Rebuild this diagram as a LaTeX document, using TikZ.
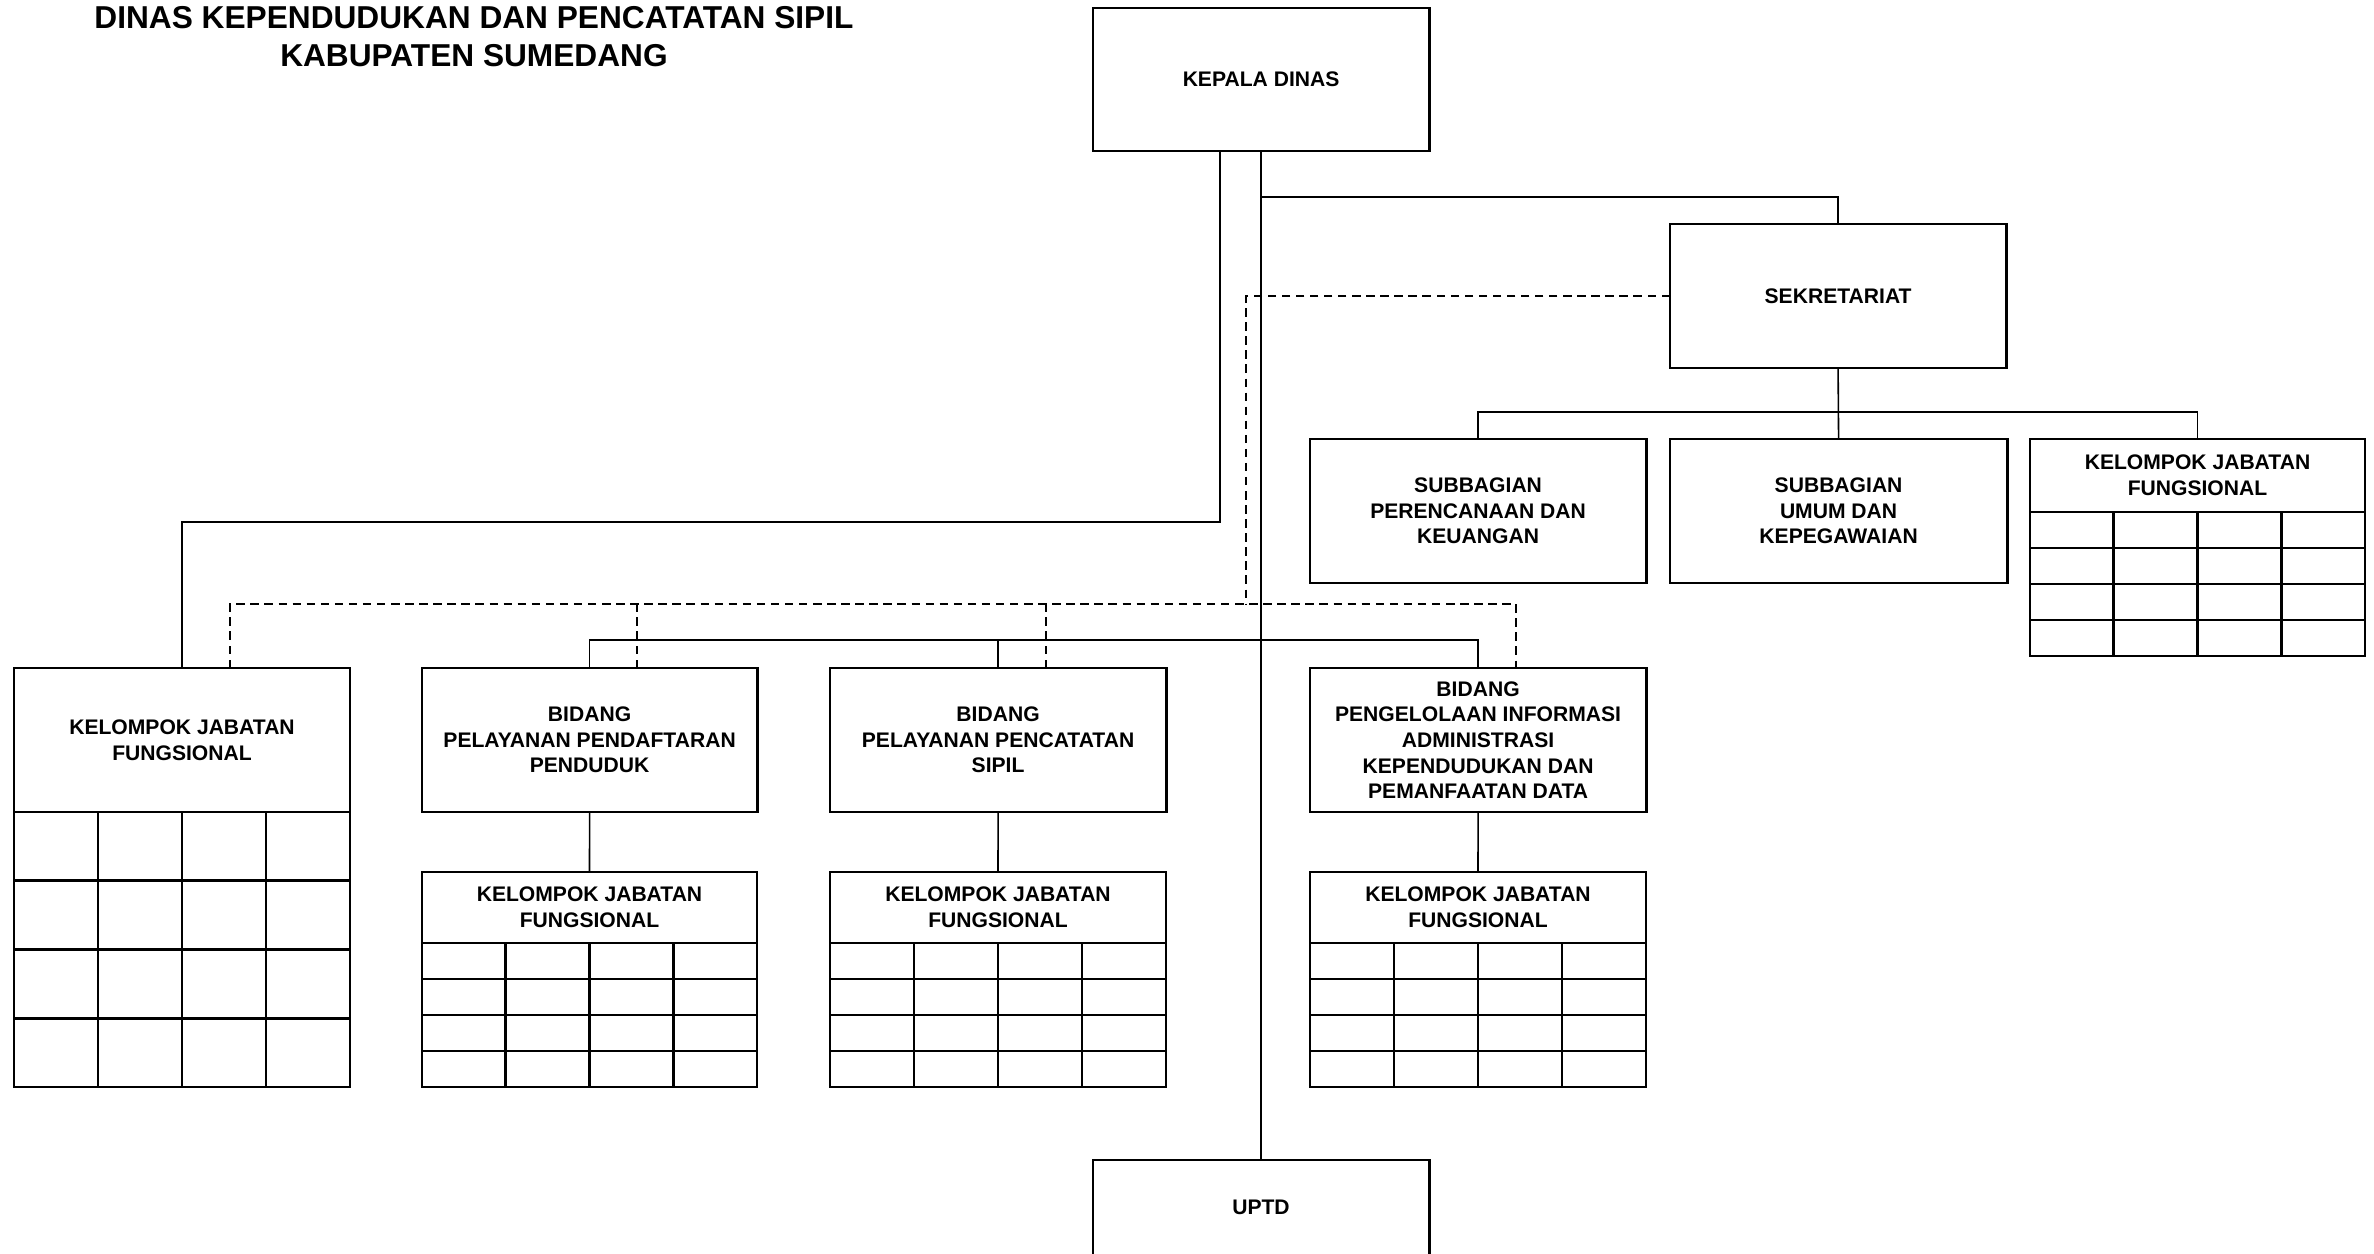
\documentclass[tikz,border=0pt]{standalone}
\usepackage{fontspec}
\setmainfont{Liberation Sans}
\tikzset{
  box/.style={draw, line width=0.8pt, align=center, inner sep=0pt, outer sep=0pt,
    font=\fontsize{6pt}{7.3pt}\selectfont\bfseries},
  gridline/.style={line width=0.8pt},
  conn/.style={line width=0.45pt},
  dconn/.style={line width=0.45pt, dash pattern=on 2.4pt off 1.6pt},
}
\newcommand\kjftab[6]{% name, xl, xr, ytop, yhead, ybot
  \node[box, anchor=north west, minimum width={(#3-#2)*0.01cm}, minimum height={(#5-#4)*0.01cm}] (#1) at (#2,#4) {KELOMPOK JABATAN\\FUNGSIONAL};
  \draw[gridline] (#2,#5) rectangle (#3,#6);
  \foreach \i in {1,2,3} {
    \draw[gridline] ({#2+(#3-#2)*\i/4},#5) -- ({#2+(#3-#2)*\i/4},#6);
    \draw[gridline] (#2,{#5+(#6-#5)*\i/4}) -- (#3,{#5+(#6-#5)*\i/4});
  }
}
\begin{document}
\begin{tikzpicture}[x=0.01cm,y=-0.01cm]
\useasboundingbox (0,0) rectangle (2374,1254);
\clip (0,0) rectangle (2374,1254);

% title
\node[align=center, font=\fontsize{9pt}{10.6pt}\selectfont\bfseries] (title) at (474,36.5)
  {DINAS KEPENDUDUKAN DAN PENCATATAN SIPIL\\KABUPATEN SUMEDANG};

% main boxes
\node[box, anchor=north west, minimum width=3.36cm, minimum height=1.43cm] (kepala) at (1093,8) {KEPALA DINAS};
\node[box, anchor=north west, minimum width=3.36cm, minimum height=1.44cm] (sekr) at (1670,224) {SEKRETARIAT};
\node[box, anchor=north west, minimum width=3.36cm, minimum height=1.44cm] (sub1) at (1310,439) {SUBBAGIAN\\PERENCANAAN DAN\\KEUANGAN};
\node[box, anchor=north west, minimum width=3.37cm, minimum height=1.44cm] (sub2) at (1670,439) {SUBBAGIAN\\UMUM DAN\\KEPEGAWAIAN};
\kjftab{kjfR}{2030}{2365}{439}{512}{656}

\kjftab{kjfL}{14}{350}{668}{812}{1087}
\node[box, anchor=north west, minimum width=3.35cm, minimum height=1.44cm] (bid1) at (422,668) {BIDANG\\PELAYANAN PENDAFTARAN\\PENDUDUK};
\node[box, anchor=north west, minimum width=3.36cm, minimum height=1.44cm] (bid2) at (830,668) {BIDANG\\PELAYANAN PENCATATAN\\SIPIL};
\node[box, anchor=north west, minimum width=3.36cm, minimum height=1.44cm] (bid3) at (1310,668) {BIDANG\\PENGELOLAAN INFORMASI\\ADMINISTRASI\\KEPENDUDUKAN DAN\\PEMANFAATAN DATA};

\kjftab{kjf1}{422}{757}{872}{943}{1087}
\kjftab{kjf2}{830}{1166}{872}{943}{1087}
\kjftab{kjf3}{1310}{1646}{872}{943}{1087}

\node[box, anchor=north west, minimum width=3.36cm, minimum height=1.6cm] (uptd) at (1093,1160) {};
\node[font=\fontsize{6pt}{7.3pt}\selectfont\bfseries] (uptdtext) at (1261,1207) {UPTD};

% helper coordinates
\coordinate (kbus) at (0,197);
\coordinate (lbus) at (0,522);
\coordinate (sbus) at (0,412);
\coordinate (dbus) at (0,604);
\coordinate (bbus) at (0,640);

% solid connectors
\draw[conn] (kepala.south) -- (kepala.south |- kbus) -- (sekr.north |- kbus) -- (sekr.north);
\draw[conn] (kepala.south) -- (uptd.north);
\draw[conn] ([xshift=-0.41cm]kepala.south) -- ([xshift=-0.41cm]kepala.south |- lbus) -- (kjfL.north |- lbus) -- (kjfL.north);
\draw[conn] (sekr.south) -- (sub2.north);
\draw[conn] (sub1.north) -- (sub1.north |- sbus) -- (kjfR.north |- sbus) -- (kjfR.north);
\draw[conn] (bid1.north) -- (bid1.north |- bbus) -- (bid3.north |- bbus) -- (bid3.north);
\draw[conn] (bid2.north) -- (bid2.north |- bbus);
\draw[conn] (bid1.south) -- (kjf1.north);
\draw[conn] (bid2.south) -- (kjf2.north);
\draw[conn] (bid3.south) -- (kjf3.north);

% dashed connectors
\draw[dconn] (sekr.west) -- ([xshift=-0.15cm]kepala.south |- sekr.west) -- ([xshift=-0.15cm]kepala.south |- dbus);
\draw[dconn] ([xshift=0.48cm]kjfL.north) -- ([xshift=0.48cm]kjfL.north |- dbus) -- ([xshift=0.38cm]bid3.north |- dbus) -- ([xshift=0.38cm]bid3.north);
\draw[dconn] ([xshift=0.475cm]bid1.north) -- ([xshift=0.475cm]bid1.north |- dbus);
\draw[dconn] ([xshift=0.48cm]bid2.north) -- ([xshift=0.48cm]bid2.north |- dbus);
\end{tikzpicture}
\end{document}
